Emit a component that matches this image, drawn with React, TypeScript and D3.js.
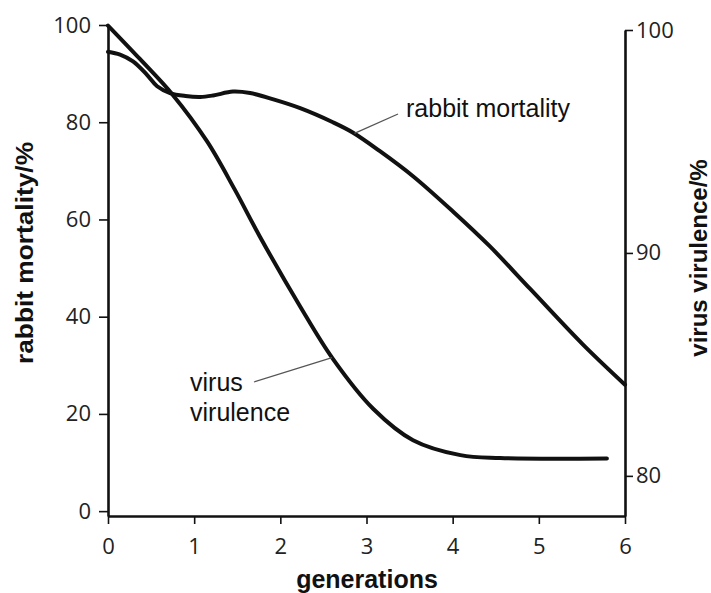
import React, { useEffect, useRef } from "react";
import * as d3 from "d3";

// rabbit mortality (left axis, %)
const rabbitGen = [0, 0.14, 0.29, 0.45, 0.57, 0.72, 0.9, 1.07, 1.22, 1.45, 1.65, 1.92, 2.23, 2.61, 2.84, 3.16, 3.54, 4.0, 4.43, 4.9, 5.51, 6.0];
const rabbitMortality = [94.5, 93.9, 92.5, 89.8, 87.4, 86.0, 85.4, 85.2, 85.5, 86.3, 86.0, 84.7, 82.9, 80.0, 77.9, 74.0, 68.9, 61.7, 54.5, 45.7, 34.3, 26.0];

// virus virulence (right axis, %)
const virusGen = [0, 0.37, 0.75, 1.15, 1.47, 1.76, 2.23, 2.61, 3.08, 3.54, 4.09, 4.55, 5.79];
const virusVirulence = [100.2, 98.7, 97.1, 95.0, 92.85, 90.75, 87.6, 85.25, 83.0, 81.6, 80.93, 80.8, 80.78];

const xTicks = [0, 1, 2, 3, 4, 5, 6];
const leftTicks = [0, 20, 40, 60, 80, 100];
const rightTicks = [80, 90, 100];

function App() {
  const svgRef = useRef<SVGSVGElement>(null);

  useEffect(() => {
    const width = 711;
    const height = 593;
    const ink = "#111";
    const tickFont = "'Open Sans', 'DejaVu Sans', sans-serif";
    const labelFont = "'Liberation Sans', Arial, sans-serif";

    const svg = d3.select(svgRef.current);
    svg.selectAll("*").remove();
    svg.attr("width", width).attr("height", height).attr("viewBox", `0 0 ${width} ${height}`);

    svg.append("rect").attr("width", width).attr("height", height).attr("fill", "#fff");

    const x = d3.scaleLinear().domain([0, 6]).range([108, 625]);
    const yL = d3.scaleLinear().domain([-1, 100]).range([516, 25]);
    const yR = d3.scaleLinear().domain([78.2, 100]).range([516, 30]);

    const styleAxis = (g: any) => {
      g.select(".domain").attr("stroke", ink).attr("stroke-width", 2.6);
      g.selectAll(".tick line").attr("stroke", ink).attr("stroke-width", 1.6);
      g.selectAll(".tick text")
        .attr("fill", "#222")
        .style("font-family", tickFont)
        .style("font-size", "22px");
    };

    svg
      .append("g")
      .attr("transform", "translate(108,0)")
      .call(d3.axisLeft(yL).tickValues(leftTicks).tickSize(9).tickSizeOuter(0).tickPadding(8))
      .call(styleAxis);

    svg
      .append("g")
      .attr("transform", "translate(0,516)")
      .call(
        d3
          .axisBottom(x)
          .tickValues(xTicks)
          .tickFormat(d3.format("d"))
          .tickSize(8)
          .tickSizeOuter(0)
          .tickPadding(14)
      )
      .call(styleAxis);

    svg
      .append("g")
      .attr("transform", "translate(625,0)")
      .call(d3.axisRight(yR).tickValues(rightTicks).tickSize(8).tickSizeOuter(0).tickPadding(3))
      .call(styleAxis);

    const rabbit = rabbitGen.map((g, i) => [g, rabbitMortality[i]] as [number, number]);
    const virus = virusGen.map((g, i) => [g, virusVirulence[i]] as [number, number]);

    const lineL = d3
      .line<[number, number]>()
      .x((d) => x(d[0]))
      .y((d) => yL(d[1]))
      .curve(d3.curveCatmullRom.alpha(0.5));
    const lineR = d3
      .line<[number, number]>()
      .x((d) => x(d[0]))
      .y((d) => yR(d[1]))
      .curve(d3.curveCatmullRom.alpha(0.5));

    svg
      .append("path")
      .attr("d", lineL(rabbit))
      .attr("fill", "none")
      .attr("stroke", ink)
      .attr("stroke-width", 4)
      .attr("stroke-linecap", "round");

    svg
      .append("path")
      .attr("d", lineR(virus))
      .attr("fill", "none")
      .attr("stroke", ink)
      .attr("stroke-width", 4)
      .attr("stroke-linecap", "round");

    // callouts
    svg
      .append("line")
      .attr("x1", x(2.86)).attr("y1", yL(77.7))
      .attr("x2", 398).attr("y2", 114)
      .attr("stroke", "#555")
      .attr("stroke-width", 1.3);
    svg
      .append("text")
      .attr("x", 406)
      .attr("y", 117)
      .style("font-family", labelFont)
      .style("font-size", "25px")
      .attr("fill", ink)
      .text("rabbit mortality");

    svg
      .append("line")
      .attr("x1", 254).attr("y1", 382)
      .attr("x2", x(2.6)).attr("y2", yR(85.3))
      .attr("stroke", "#555")
      .attr("stroke-width", 1.3);
    const vt = svg
      .append("text")
      .style("font-family", labelFont)
      .style("font-size", "25px")
      .attr("fill", ink);
    vt.append("tspan").attr("x", 190).attr("y", 391).text("virus");
    vt.append("tspan").attr("x", 190).attr("y", 421).text("virulence");

    // axis titles
    svg
      .append("text")
      .attr("transform", "translate(33,253) rotate(-90)")
      .attr("text-anchor", "middle")
      .attr("textLength", 222)
      .attr("lengthAdjust", "spacingAndGlyphs")
      .style("font-family", labelFont)
      .style("font-weight", "bold")
      .style("font-size", "23px")
      .attr("fill", ink)
      .text("rabbit mortality/%");

    svg
      .append("text")
      .attr("transform", "translate(707,258) rotate(-90)")
      .attr("text-anchor", "middle")
      .style("font-family", labelFont)
      .style("font-weight", "bold")
      .style("font-size", "24px")
      .attr("fill", ink)
      .text("virus virulence/%");

    svg
      .append("text")
      .attr("x", 367)
      .attr("y", 588)
      .attr("text-anchor", "middle")
      .style("font-family", labelFont)
      .style("font-weight", "bold")
      .style("font-size", "25px")
      .attr("fill", ink)
      .text("generations");
  }, []);

  return (
    <svg
      ref={svgRef}
      style={{ position: "absolute", left: 0, top: 0, display: "block" }}
    />
  );
}

export default App;
